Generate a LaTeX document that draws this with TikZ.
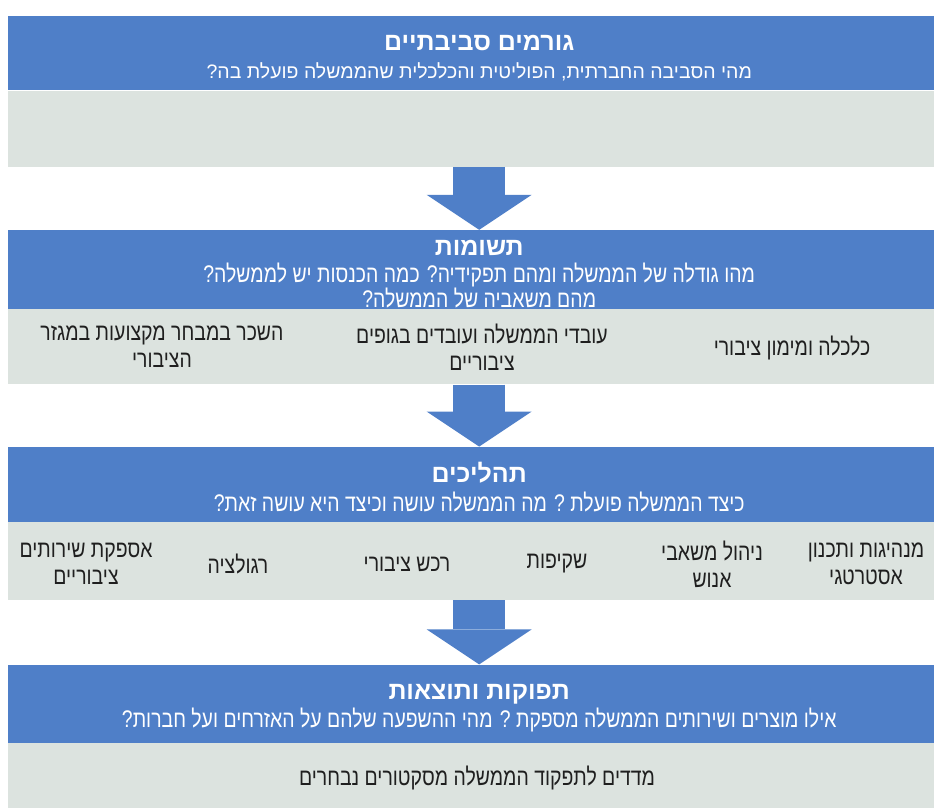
\documentclass[tikz,border=0pt]{standalone}
\usepackage{fontspec}
\usetikzlibrary{positioning,arrows.meta}
\TeXXeTstate=1
\newfontfamily\hebfont[Script=Hebrew]{Liberation Sans}
\newfontfamily\hebnarrow[Script=Hebrew,FakeStretch=0.81]{Liberation Sans}
\definecolor{hdrblue}{RGB}{79,127,200}
\definecolor{bodygray}{RGB}{220,227,223}
\protected\def\heb#1{\beginR #1\endR}
\protected\def\hebtwo#1#2{\heb{#1}\\\heb{#2}}
\newcommand{\boxtitle}[1]{{\bfseries\fontsize{25}{25}\selectfont\rule{0pt}{25pt}\heb{#1}}}
\newcommand{\narrowline}[1]{{\hebnarrow\fontsize{24}{25}\selectfont\heb{#1}}}

\begin{document}
\begin{tikzpicture}[x=1pt,y=-1pt,
        header/.style={fill=hdrblue, text=white, minimum width=942pt, inner sep=0pt,
            align=center, font=\hebfont\fontsize{19.5}{25}\selectfont},
        body/.style={fill=bodygray, minimum width=942pt, inner sep=0pt},
        item/.style={text=black!88, align=center, font=\hebnarrow\fontsize{24}{27}\selectfont},
        flow/.style={draw=hdrblue, line width=52pt,
            -{Triangle[length=35pt,width=105pt,line width=0pt]}}
    ]
        \useasboundingbox (0,0) rectangle (934,807);

        % first stage
        \node[header, minimum height=74pt, anchor=north west] (env-head) at (8,16)
            {\boxtitle{גורמים סביבתיים}\\[3pt]
             \heb{מהי הסביבה החברתית, הפוליטית והכלכלית שהממשלה פועלת בה?}};
        \node[body, minimum height=76pt, below=0pt of env-head] (env-body) {};

        % second stage
        \node[header, minimum height=79pt, below=63pt of env-body] (in-head)
            {\boxtitle{תשומות}\\[2pt]
             \narrowline{מהו גודלה של הממשלה ומהם תפקידיה? כמה הכנסות יש לממשלה?}\\
             \narrowline{מהם משאביה של הממשלה?}};
        \node[body, minimum height=75pt, below=0pt of in-head] (in-body) {};
        \node[item] (in-1) at (792,348) {\heb{כלכלה ומימון ציבורי}};
        \node[item] (in-2) at (482,347) {\hebtwo{עובדי הממשלה ועובדים בגופים}{ציבוריים}};
        \node[item] (in-3) at (162,347) {\hebtwo{השכר במבחר מקצועות במגזר}{הציבורי}};

        % third stage
        \node[header, minimum height=75pt, below=62pt of in-body] (proc-head)
            {\boxtitle{תהליכים}\\[4pt]
             \narrowline{כיצד הממשלה פועלת ? מה הממשלה עושה וכיצד היא עושה זאת?}};
        \node[body, minimum height=78pt, below=0pt of proc-head] (proc-body) {};
        \node[item] (proc-1) at (866,564) {\hebtwo{מנהיגות ותכנון}{אסטרטגי}};
        \node[item] (proc-2) at (712,564) {\hebtwo{ניהול משאבי}{אנוש}};
        \node[item] (proc-3) at (557,564) {\heb{שקיפות}};
        \node[item] (proc-4) at (407,564) {\heb{רכש ציבורי}};
        \node[item] (proc-5) at (238,564) {\heb{רגולציה}};
        \node[item] (proc-6) at (86,564) {\hebtwo{אספקת שירותים}{ציבוריים}};

        % fourth stage
        \node[header, minimum height=78pt, below=64pt of proc-body] (out-head)
            {\boxtitle{תפוקות ותוצאות}\\[3pt]
             \narrowline{אילו מוצרים ושירותים הממשלה מספקת ? מהי ההשפעה שלהם על האזרחים ועל חברות?}};
        \node[body, minimum height=76pt, below=0pt of out-head] (out-body) {};
        \node[item] (out-1) at (477,778) {\heb{מדדים לתפקוד הממשלה מסקטורים נבחרים}};

        % arrows between the stages
        \draw[flow] (env-body) -- (in-head);
        \draw[flow] (in-body) -- (proc-head);
        \draw[flow] (proc-body) -- (out-head);
    \end{tikzpicture}
\end{document}
